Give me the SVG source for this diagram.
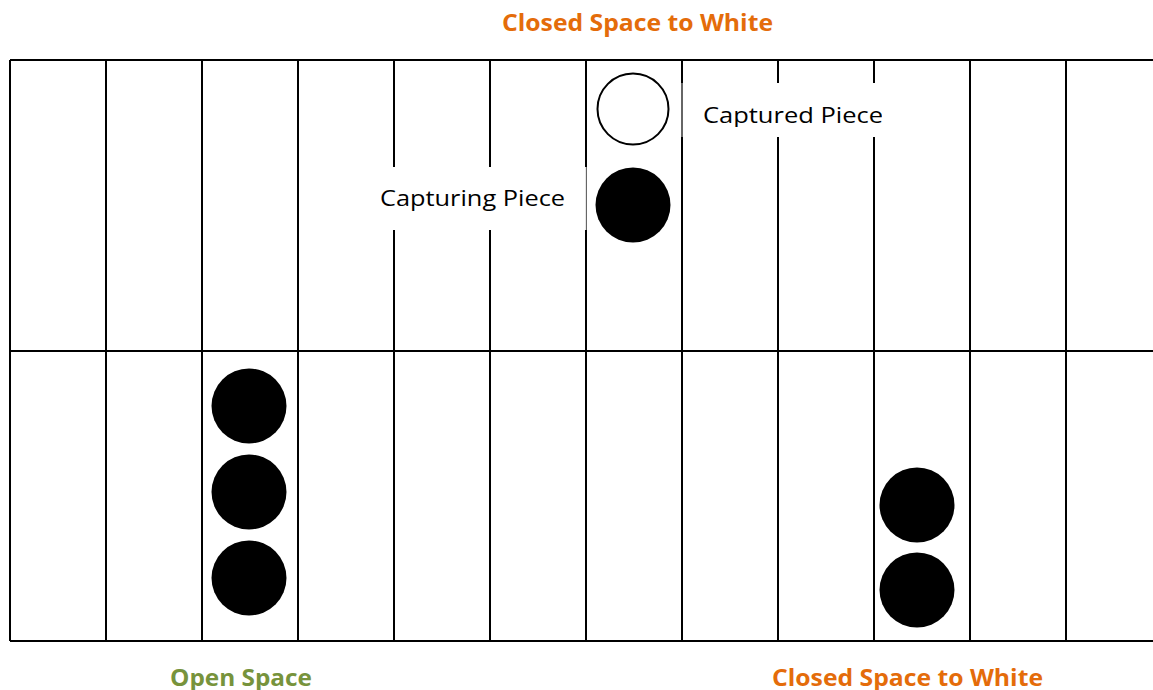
<svg xmlns="http://www.w3.org/2000/svg" width="1153" height="690" viewBox="0 0 1153 690">
<style>
.g{stroke:#000;stroke-width:2;fill:none}
.blk{fill:#000}
.wht{fill:#fff;stroke:#000;stroke-width:2}
.lbl{font-family:"Open Sans","Liberation Sans",sans-serif;font-size:22px;fill:#000}
.ttl{font-family:"Open Sans","Liberation Sans",sans-serif;font-size:23px;font-weight:bold}
.or{fill:#E46C0A}
.gr{fill:#77933C}
</style>
<defs>
<clipPath id="capclip"><rect x="682" y="83" width="200" height="44"/></clipPath>
</defs>
<rect width="1153" height="690" fill="#fff"/>
<g id="board">
<path class="g" d="M10 60H1153M10 351H1153M10 641H1153"/>
<path class="g" d="M10 60V641M106 60V641M202 60V641M298 60V641M394 60V641M490 60V641M586 60V641M682 60V641M778 60V641M874 60V641M970 60V641M1066 60V641"/>
</g>
<g id="label-capturing">
<rect x="365" y="167" width="221" height="63" fill="#fff"/>
<line x1="586" y1="167" x2="586" y2="230" stroke="#ccc" stroke-width="1"/>
<text class="lbl" x="380" y="206" textLength="185" lengthAdjust="spacingAndGlyphs">Capturing Piece</text>
</g>
<g id="label-captured">
<rect x="683" y="83" width="200" height="54" fill="#fff"/>
<line x1="682" y1="83" x2="682" y2="137" stroke="#ccc" stroke-width="1"/>
<text class="lbl" x="703" y="123" textLength="180" lengthAdjust="spacingAndGlyphs" clip-path="url(#capclip)">Captured Piece</text>
</g>
<g id="piece-captured"><circle class="wht" cx="633" cy="109" r="35.5"/></g>
<g id="piece-capturing"><circle class="blk" cx="633" cy="205" r="37.5"/></g>
<g id="pieces-left">
<circle class="blk" cx="249" cy="406" r="37.5"/>
<circle class="blk" cx="249" cy="492" r="37.5"/>
<circle class="blk" cx="249" cy="578" r="37.5"/>
</g>
<g id="pieces-right">
<circle class="blk" cx="917" cy="505" r="37.5"/>
<circle class="blk" cx="917" cy="590" r="37.5"/>
</g>
<g id="titles">
<text class="ttl or" x="502" y="31" textLength="271" lengthAdjust="spacingAndGlyphs">Closed Space to White</text>
<text class="ttl gr" x="170" y="686" textLength="142" lengthAdjust="spacingAndGlyphs">Open Space</text>
<text class="ttl or" x="772" y="686" textLength="271" lengthAdjust="spacingAndGlyphs">Closed Space to White</text>
</g>
</svg>
